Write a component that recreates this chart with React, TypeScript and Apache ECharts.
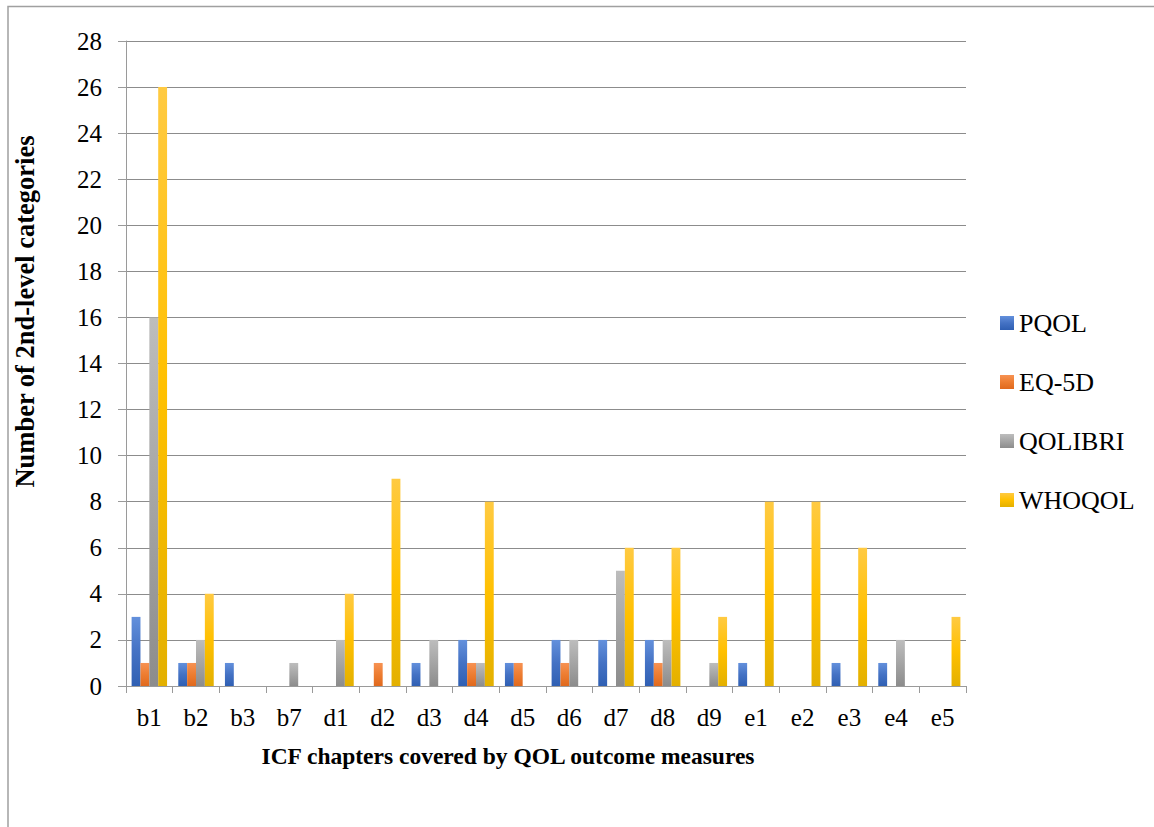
import React, { useEffect, useRef } from "react";
import * as echarts from "echarts";

const categories = ["b1", "b2", "b3", "b7", "d1", "d2", "d3", "d4", "d5", "d6", "d7", "d8", "d9", "e1", "e2", "e3", "e4", "e5"];
const pqol = [3, 1, 1, 0, 0, 0, 1, 2, 1, 2, 2, 2, 0, 1, 0, 1, 1, 0];
const eq5d = [1, 1, 0, 0, 0, 1, 0, 1, 1, 1, 0, 1, 0, 0, 0, 0, 0, 0];
const qolibri = [16, 2, 0, 1, 2, 0, 2, 1, 0, 2, 5, 2, 1, 0, 0, 0, 2, 0];
const whoqol = [26, 4, 0, 0, 4, 9, 0, 8, 0, 0, 6, 6, 3, 8, 8, 6, 0, 3];
const seriesNames = ["PQOL", "EQ-5D", "QOLIBRI", "WHOQOL"];
const seriesData = [pqol, eq5d, qolibri, whoqol];
const palette = [
  ["#6390dc", "#4472c4", "#2f5fb3"],
  ["#f79253", "#ed7d31", "#e0691d"],
  ["#bdbdbd", "#a5a5a5", "#8c8c8c"],
  ["#ffca42", "#ffc000", "#e3b000"],
];

const FONT = "'Liberation Serif', 'Times New Roman', serif";

export default function App() {
  const ref = useRef<HTMLDivElement>(null);
  useEffect(() => {
    const chart = echarts.init(ref.current!, undefined, { renderer: "svg" });
    chart.setOption({
      animation: false,
      backgroundColor: "#ffffff",
      textStyle: { fontFamily: FONT },
      graphic: [
        {
          type: "rect",
          shape: { x: 8, y: 6.5, width: 1300, height: 1000 },
          style: { fill: "none", stroke: "#a0a0a0", lineWidth: 1.5 },
          silent: true,
        },
      ],
      grid: { left: 126, right: 188, top: 41, bottom: 141 },
      legend: {
        orient: "vertical",
        left: 995,
        top: 305,
        itemWidth: 14,
        itemHeight: 14,
        itemGap: 33,
        icon: "rect",
        textStyle: { fontFamily: FONT, fontSize: 26, color: "#000" },
        data: seriesNames,
      },
      xAxis: {
        type: "category",
        data: categories,
        name: "ICF chapters covered by QOL outcome measures",
        nameLocation: "middle",
        nameGap: 58,
        nameTextStyle: {
          fontFamily: FONT,
          fontSize: 23.5,
          fontWeight: "bold",
          color: "#000",
          padding: [0, 76, 0, 0],
        },
        axisLine: { lineStyle: { color: "#9a9a9a", width: 1 } },
        axisTick: { show: true, length: 7, lineStyle: { color: "#9a9a9a" } },
        axisLabel: { fontFamily: FONT, fontSize: 25, color: "#000", margin: 19 },
      },
      yAxis: {
        type: "value",
        min: 0,
        max: 28,
        interval: 2,
        name: "Number of 2nd-level categories",
        nameLocation: "middle",
        nameGap: 88,
        nameTextStyle: {
          fontFamily: FONT,
          fontSize: 26.5,
          fontWeight: "bold",
          color: "#000",
          padding: [0, 0, 0, 104],
        },
        axisLine: { show: true, lineStyle: { color: "#9a9a9a", width: 1 } },
        axisTick: { show: true, length: 8, lineStyle: { color: "#9a9a9a" } },
        axisLabel: { fontFamily: FONT, fontSize: 25, color: "#000", margin: 24 },
        splitLine: { show: true, lineStyle: { color: "#8c8c8c", width: 1 } },
      },
      series: seriesNames.map((name, i) => ({
        name,
        type: "bar",
        data: seriesData[i],
        barGap: "0%",
        barCategoryGap: "24%",
        itemStyle: {
          color: new echarts.graphic.LinearGradient(0, 0, 0, 1, [
            { offset: 0, color: palette[i][0] },
            { offset: 0.5, color: palette[i][1] },
            { offset: 1, color: palette[i][2] },
          ]),
        },
      })),
    });
    return () => chart.dispose();
  }, []);
  return (
    <div
      ref={ref}
      style={{ position: "fixed", left: 0, top: 0, width: 1154, height: 827 }}
    />
  );
}
